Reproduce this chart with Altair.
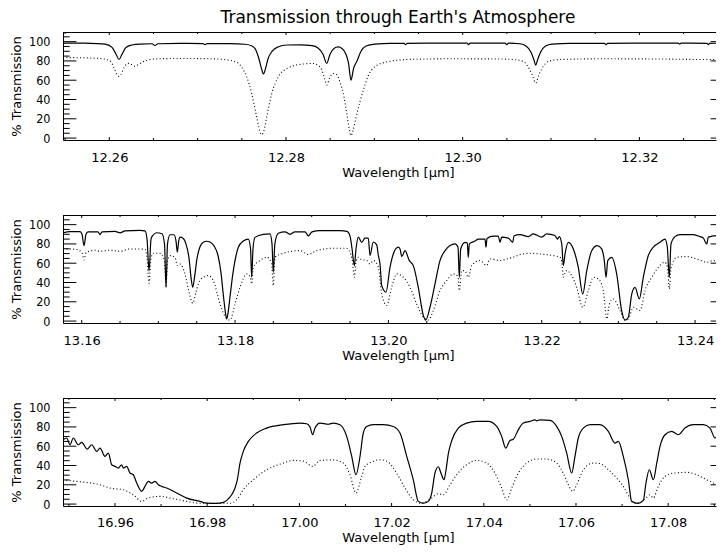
import altair as alt
import pandas as pd

FONT = "DejaVu Sans"
NARROW = "'Liberation Sans Narrow', 'DejaVu Sans Condensed', 'DejaVu Sans', sans-serif"
W, H = 653, 108
Y_DOMAIN = [-2, 110]

# ---------------- data: panel 1 (12.25 - 12.33 um) ----------------
p1_wl_solid = [12.25476, 12.25782, 12.25951, 12.26031, 12.26076, 12.26110, 12.26144, 12.26189, 12.26257, 12.26347,
               12.26483, 12.26517, 12.26551, 12.26800, 12.27061, 12.27083, 12.27106, 12.27366, 12.27536, 12.27615,
               12.27660, 12.27694, 12.27723, 12.27745, 12.27768, 12.27796, 12.27842, 12.27909, 12.28011, 12.28159,
               12.28294, 12.28362, 12.28419, 12.28461, 12.28498, 12.28543, 12.28589, 12.28634, 12.28679, 12.28707,
               12.28736, 12.28764, 12.28804, 12.28849, 12.28906, 12.29007, 12.29177, 12.29336, 12.29353, 12.29370,
               12.29743, 12.30049, 12.30066, 12.30083, 12.30479, 12.30498, 12.30519, 12.30649, 12.30717, 12.30773,
               12.30807, 12.30826, 12.30847, 12.30881, 12.30937, 12.31011, 12.31215, 12.31605, 12.31622, 12.31639,
               12.32120, 12.32440, 12.32455, 12.32472, 12.32573, 12.32765, 12.32780, 12.32794, 12.33060]
p1_tr_solid = [98.5, 98.3, 97.5, 94, 87, 81.5, 87, 94, 96.5, 97.5,
               97.8, 96, 97.8, 98.2, 98, 96.8, 98, 98, 97.3, 95.5,
               91, 82, 72, 66.5, 72, 82, 90, 94.5, 96.5, 96.7,
               95.8, 93.5, 87, 77.5, 87, 93, 94.5, 93, 87, 78,
               60, 72, 80, 90, 95.5, 97.5, 98.3, 98.3, 96.8, 98.3,
               98.5, 98.5, 97, 98.5, 98.5, 97, 98.5, 97.8, 95.5, 89,
               81, 75.5, 81, 89, 95.5, 97.5, 98.3, 98.3, 96.8, 98.3,
               98.5, 98.5, 97.5, 98.5, 98.5, 98.3, 96.8, 98.3, 98.5]
p1_wl_dot = [12.25476, 12.25668, 12.25895, 12.26008, 12.26053, 12.26087, 12.26110, 12.26132, 12.26166, 12.26200,
             12.26229, 12.26257, 12.26291, 12.26325, 12.26404, 12.26540, 12.26800, 12.27174, 12.27332, 12.27445,
             12.27502, 12.27555, 12.27612, 12.27668, 12.27700, 12.27725, 12.27751, 12.27782, 12.27838, 12.27913,
             12.28008, 12.28159, 12.28309, 12.28362, 12.28404, 12.28436, 12.28461, 12.28492, 12.28536, 12.28572,
             12.28611, 12.28649, 12.28691, 12.28719, 12.28736, 12.28759, 12.28792, 12.28838, 12.28883, 12.28928,
             12.29007, 12.29143, 12.29404, 12.29856, 12.30422, 12.30592, 12.30686, 12.30739, 12.30785, 12.30826,
             12.30864, 12.30909, 12.30969, 12.31102, 12.31554, 12.32233, 12.32686, 12.33060]
p1_tr_dot = [83.5, 83.3, 82.5, 80, 73, 66, 64, 66, 73, 77,
             77.5, 76, 74.5, 76, 80, 82.2, 82.5, 82.2, 81, 78.5,
             73, 63.5, 46, 22, 8, 3.5, 8, 22, 46, 63.5,
             72, 76.4, 77.4, 75.5, 71, 62, 55, 62, 67, 66,
             58, 46, 24, 8, 2.5, 8, 21, 38, 52, 64,
             74, 79, 81.6, 82.2, 82, 81.3, 79.5, 74, 66, 57,
             66, 74, 79.5, 81.5, 82.2, 82, 81.5, 81.5]

# ---------------- data: panel 2 (13.16 - 13.24 um) ----------------
p2_wl_solid = [13.15756, 13.15847, 13.15978, 13.16004, 13.16030, 13.16056, 13.16082, 13.16213, 13.16239, 13.16265,
               13.16434, 13.16500, 13.16565, 13.16760, 13.16826, 13.16852, 13.16878, 13.16904, 13.16930, 13.16978,
               13.17047, 13.17080, 13.17100, 13.17119, 13.17152, 13.17204, 13.17230, 13.17247, 13.17265, 13.17282,
               13.17321, 13.17360, 13.17400, 13.17426, 13.17448, 13.17471, 13.17504, 13.17543, 13.17582, 13.17630,
               13.17673, 13.17726, 13.17778, 13.17817, 13.17850, 13.17876, 13.17891, 13.17908, 13.17934, 13.17973,
               13.18013, 13.18043, 13.18108, 13.18173, 13.18202, 13.18217, 13.18234, 13.18260, 13.18369, 13.18456,
               13.18482, 13.18499, 13.18519, 13.18564, 13.18652, 13.18717, 13.18782, 13.18913, 13.18956, 13.19004,
               13.19108, 13.19369, 13.19460, 13.19500, 13.19526, 13.19556, 13.19578, 13.19608, 13.19652, 13.19695,
               13.19738, 13.19760, 13.19803, 13.19848, 13.19869, 13.19891, 13.19913, 13.19969, 13.20021, 13.20064,
               13.20129, 13.20152, 13.20174, 13.20217, 13.20273, 13.20325, 13.20390, 13.20456, 13.20487, 13.20543,
               13.20608, 13.20673, 13.20739, 13.20804, 13.20869, 13.20908, 13.20925, 13.20943, 13.20999, 13.21029,
               13.21042, 13.21056, 13.21130, 13.21173, 13.21260, 13.21273, 13.21286, 13.21369, 13.21434, 13.21456,
               13.21478, 13.21564, 13.21622, 13.21639, 13.21717, 13.21825, 13.21890, 13.22000, 13.22065, 13.22173,
               13.22203, 13.22229, 13.22261, 13.22282, 13.22304, 13.22347, 13.22412, 13.22477, 13.22535, 13.22587,
               13.22652, 13.22725, 13.22782, 13.22816, 13.22839, 13.22861, 13.22913, 13.22978, 13.23043, 13.23086,
               13.23129, 13.23174, 13.23217, 13.23273, 13.23325, 13.23390, 13.23455, 13.23543, 13.23608, 13.23638,
               13.23664, 13.23686, 13.23738, 13.23804, 13.23977, 13.24065, 13.24108, 13.24152, 13.24173, 13.24282,
               13.24316, 13.24348, 13.24391, 13.24495]
p2_tr_solid = [91.5, 92.8, 92.8, 90, 78.3, 90, 92.5, 92.5, 89.5, 92.5,
               93, 91.5, 93.5, 94, 93.5, 85, 52, 85, 89, 91.6,
               90.5, 80, 35, 80, 89.5, 89.5, 83, 71.4, 83, 87,
               86, 80, 65, 45, 35, 45, 65, 77, 81.5, 82.8,
               82, 78, 68, 50, 25, 8, 2.2, 8, 25, 50,
               68, 76.6, 83, 85, 75, 45.4, 75, 86.8, 90, 90.5,
               80, 50.6, 80, 91, 92.5, 90, 92.5, 92.5, 88.3, 92.5,
               93.8, 93.8, 93, 88, 75, 57.5, 75, 87, 81.7, 86,
               86, 68, 82, 79, 68, 59, 36.8, 30, 55.8, 69.6,
               76.6, 74.8, 66.9, 73, 62.7, 57.5, 35, 5.7, 1, 14.4,
               38.5, 62.7, 73, 78.3, 80, 76.6, 45.4, 74.8, 81.7, 81,
               66, 80, 83, 85, 85, 76.6, 85.6, 88, 88, 81.7,
               87, 86, 81.7, 88.5, 89.7, 87.6, 90.4, 87, 90.4, 88.7,
               85, 87.6, 80, 57.5, 69.6, 81.7, 74.8, 55.8, 28, 52,
               73, 78.3, 74.8, 62.7, 45.4, 62.7, 66, 48.7, 10.6, 1,
               4, 28, 35, 23, 45.4, 68, 76.6, 81.7, 85, 76.6,
               45.4, 80, 87.6, 89.7, 89.7, 87.6, 86, 80, 87, 88.7,
               80, 87.6, 88.7, 88.7]
p2_wl_dot = [13.15756, 13.15913, 13.16004, 13.16030, 13.16056, 13.16173, 13.16239, 13.16369, 13.16500, 13.16630,
             13.16826, 13.16852, 13.16878, 13.16904, 13.16934, 13.17021, 13.17080, 13.17100, 13.17119, 13.17152,
             13.17217, 13.17247, 13.17282, 13.17347, 13.17400, 13.17448, 13.17491, 13.17521, 13.17586, 13.17651,
             13.17716, 13.17804, 13.17869, 13.17934, 13.18000, 13.18065, 13.18152, 13.18202, 13.18217, 13.18238,
             13.18326, 13.18413, 13.18476, 13.18499, 13.18521, 13.18630, 13.18847, 13.18956, 13.19065, 13.19282,
             13.19456, 13.19526, 13.19556, 13.19578, 13.19608, 13.19643, 13.19717, 13.19760, 13.19803, 13.19869,
             13.19913, 13.19978, 13.20043, 13.20109, 13.20195, 13.20282, 13.20369, 13.20456, 13.20521, 13.20586,
             13.20673, 13.20761, 13.20847, 13.20908, 13.20925, 13.20956, 13.20999, 13.21042, 13.21087, 13.21195,
             13.21282, 13.21325, 13.21456, 13.21543, 13.21629, 13.21717, 13.21847, 13.21978, 13.22151, 13.22238,
             13.22261, 13.22282, 13.22304, 13.22326, 13.22391, 13.22456, 13.22535, 13.22608, 13.22673, 13.22738,
             13.22803, 13.22848, 13.22882, 13.22934, 13.23021, 13.23086, 13.23129, 13.23195, 13.23282, 13.23347,
             13.23435, 13.23521, 13.23608, 13.23641, 13.23664, 13.23686, 13.23761, 13.23891, 13.24021, 13.24152,
             13.24238, 13.24325, 13.24391, 13.24495]
p2_tr_dot = [74.8, 74.5, 71, 63.4, 71, 73.5, 72.4, 73.5, 72.4, 74.8,
             74.5, 65, 39.2, 65, 70.3, 70.3, 62, 35.1, 62, 67.9,
             66.2, 57.6, 59.2, 48.9, 30, 18.5, 30, 38.5, 45.4, 47.2,
             42, 17.7, 5, 1.1, 17.7, 35.1, 48.9, 45, 38.5, 55.8,
             62.8, 66.2, 60, 36.8, 66.2, 70.3, 73.1, 69, 73.1, 75.5,
             75.5, 65, 45.4, 62, 66.2, 64, 62.8, 59.2, 62.8, 55.8,
             28.1, 16.1, 35.1, 48.9, 45.4, 35.1, 17.7, 3.9, 1.1, 10.9,
             31.6, 42, 48.9, 46, 31.6, 52.4, 52, 45.4, 57.6, 62.8,
             57.6, 64.4, 62.8, 64.4, 66.2, 69, 70.3, 69.6, 67.9, 66.2,
             62, 45.4, 50, 52.4, 47.2, 35.1, 14.3, 31.6, 45.4, 43.7,
             31.6, 2.2, 17.7, 22.9, 10.9, 1.1, 2.2, 14.3, 10.9, 31.6,
             45.4, 55.8, 61, 55, 33.3, 55, 66.2, 66.9, 64.4, 61,
             62.8, 59.2, 61, 60]

# ---------------- data: panel 3 (16.95 - 17.09 um) ----------------
p3_wl_solid = [16.94872, 16.94952, 16.95024, 16.95095, 16.95204, 16.95278, 16.95399, 16.95495, 16.95603, 16.95675,
               16.95783, 16.95855, 16.95928, 16.96000, 16.96072, 16.96145, 16.96180, 16.96254, 16.96325, 16.96397,
               16.96471, 16.96579, 16.96651, 16.96722, 16.96796, 16.96868, 16.96939, 16.97013, 16.97121, 16.97338,
               16.97555, 16.97844, 16.97989, 16.98206, 16.98349, 16.98423, 16.98531, 16.98603, 16.98653, 16.98712,
               16.98783, 16.98892, 16.99074, 16.99291, 16.99651, 17.00013, 17.00158, 17.00230, 17.00289, 17.00338,
               17.00447, 17.00627, 17.00735, 17.00881, 17.01026, 17.01135, 17.01228, 17.01315, 17.01386, 17.01460,
               17.01603, 17.01820, 17.02037, 17.02182, 17.02328, 17.02471, 17.02579, 17.02688, 17.02796, 17.02870,
               17.02941, 17.03013, 17.03072, 17.03137, 17.03180, 17.03230, 17.03304, 17.03447, 17.03629, 17.03846,
               17.04098, 17.04280, 17.04388, 17.04475, 17.04568, 17.04640, 17.04748, 17.04857, 17.05002, 17.05111,
               17.05148, 17.05219, 17.05436, 17.05581, 17.05690, 17.05798, 17.05907, 17.05978, 17.06050, 17.06158,
               17.06304, 17.06521, 17.06701, 17.06846, 17.06918, 17.07026, 17.07135, 17.07208, 17.07351, 17.07460,
               17.07518, 17.07590, 17.07677, 17.07751, 17.07822, 17.07931, 17.08076, 17.08219, 17.08364, 17.08545,
               17.08761, 17.08907, 17.09015, 17.09124, 17.09232, 17.09406]
p3_tr_solid = [66.7, 68.5, 61.5, 68.5, 61.5, 64, 57, 61.5, 54.6, 58.1,
               49.5, 52.9, 40.8, 39.1, 37.3, 40.8, 37.3, 39.1, 32.2, 30.4,
               21.8, 13.2, 18.4, 23.5, 21.8, 23.5, 20, 18.4, 16.6, 11.4,
               6.2, 2.8, 1, 0.8, 1.7, 3.8, 9.6, 16.6, 25.2, 42.5,
               54.6, 65, 73.7, 78.8, 82.3, 84, 83.3, 79.9, 71.9, 78.8,
               84, 82.8, 84, 82.3, 70.2, 49.5, 30.4, 49.5, 73.7, 80.5,
               82.3, 82.3, 80.5, 73.7, 49.5, 25, 2.8, 1, 2.8, 11.4,
               32.2, 38.7, 32, 25.2, 35, 52, 65.7, 78.8, 84, 85.8,
               85.8, 80.6, 70.2, 58.1, 66, 67.3, 77, 84, 85.8, 87.4,
               86.3, 87.4, 86.8, 80.6, 70.2, 52.9, 32.2, 49.5, 68.5, 78.8,
               82.3, 82.3, 75.4, 63.3, 65, 49.4, 25.2, 2.8, 0.8, 3.8,
               21.8, 35.6, 25.2, 42.2, 59.8, 71.9, 75.4, 71.9, 78.8, 82.3,
               82.3, 78.8, 68.5, 75.4, 78.8, 79]
p3_wl_dot = [16.94872, 16.95169, 16.95675, 16.95892, 16.96180, 16.96397, 16.96579, 16.96722, 16.96976, 16.97265,
             16.97555, 16.97844, 16.98495, 16.98640, 16.98783, 16.99000, 16.99291, 16.99651, 16.99868, 17.00085,
             17.00289, 17.00447, 17.00735, 17.00952, 17.01098, 17.01228, 17.01351, 17.01423, 17.01603, 17.01748,
             17.01894, 17.02111, 17.02291, 17.02471, 17.02653, 17.02761, 17.02870, 17.03013, 17.03122, 17.03267,
             17.03412, 17.03629, 17.03846, 17.04063, 17.04243, 17.04388, 17.04497, 17.04605, 17.04748, 17.04931,
             17.05148, 17.05364, 17.05581, 17.05725, 17.05833, 17.05929, 17.06015, 17.06158, 17.06375, 17.06521,
             17.06701, 17.06883, 17.07026, 17.07171, 17.07280, 17.07425, 17.07518, 17.07605, 17.07677, 17.07785,
             17.07931, 17.08111, 17.08401, 17.08618, 17.08835, 17.09052, 17.09232, 17.09406]
p3_tr_dot = [25.2, 23.5, 20, 16.6, 14.8, 9.6, 2.8, 6.3, 8, 5.5,
             2.8, 0.8, 0.8, 4.5, 14.9, 25.2, 35.6, 42.5, 45.3, 44.5,
             39.1, 45.3, 45.8, 42.5, 30.4, 11.4, 28.7, 39, 44.3, 46,
             44.5, 32, 16.6, 4.5, 0.8, 2.8, 6.3, 10.7, 9.6, 20,
             30.4, 40.8, 45.3, 42.5, 32, 16.6, 4.5, 16.6, 32, 42.5,
             46.7, 46.7, 42.5, 32, 20, 13.2, 20, 35.6, 42.5, 42,
             35.6, 27, 18.3, 6.3, 0.8, 2.8, 6.3, 9.6, 6.3, 18.3,
             28.7, 32, 32.9, 30.4, 25.2, 20, 14.9, 13]

# ---------------- axes: ranges and tick values ----------------
p1_xdomain = [12.25476, 12.32867]
p2_xdomain = [13.15756, 13.24273]
p3_xdomain = [16.94872, 17.09037]
p1_xmajor = [12.26, 12.28, 12.30, 12.32]
p1_xminor = [12.255, 12.265, 12.27, 12.275, 12.285, 12.29, 12.295, 12.305, 12.31, 12.315, 12.325]
p2_xmajor = [13.16, 13.18, 13.20, 13.22, 13.24]
p2_xminor = [13.165, 13.17, 13.175, 13.185, 13.19, 13.195, 13.205, 13.21, 13.215, 13.225, 13.23, 13.235]
p3_xmajor = [16.96, 16.98, 17.00, 17.02, 17.04, 17.06, 17.08]
p3_xminor = [16.95, 16.97, 16.99, 17.01, 17.03, 17.05, 17.07, 17.09]
y_major = [0, 20, 40, 60, 80, 100]
y_minor = [5, 10, 15, 25, 30, 35, 45, 50, 55, 65, 70, 75, 85, 90, 95, 105]

TITLE = "Transmission through Earth's Atmosphere"
X_TITLE = "Wavelength [µm]"
Y_TITLE = "% Transmission"


def make_panel(wl_s, tr_s, wl_d, tr_d, xdom, xmaj, xmin, title=None, x_lpad=11, x_ext=24, x_tpad=2):
    xs = alt.Scale(domain=xdom, nice=False, zero=False)
    ys = alt.Scale(domain=Y_DOMAIN, nice=False, zero=False)
    x_axis = alt.Axis(values=xmaj, format=".2f", title=X_TITLE, ticks=False, tickSize=0,
                      labelPadding=x_lpad, domain=True, domainColor="black", domainWidth=1,
                      grid=False, labelFlush=False, labelOverlap=False,
                      minExtent=x_ext, maxExtent=x_ext, titlePadding=x_tpad, titleX=335)
    y_axis = alt.Axis(values=y_major, title=Y_TITLE, ticks=False, tickSize=0,
                      labelPadding=13, labelFont=NARROW, labelFontSize=12.5,
                      domain=True, domainColor="black", domainWidth=1,
                      grid=False, labelFlush=False, labelOverlap=False,
                      minExtent=38, maxExtent=38, titlePadding=2)
    X = lambda f: alt.X(f, scale=xs, axis=x_axis)
    Y = lambda f: alt.Y(f, scale=ys, axis=y_axis)

    solid = alt.Chart(pd.DataFrame({"wl": wl_s, "tr": tr_s})).mark_line(
        color="black", strokeWidth=1.2, interpolate="monotone", clip=True
    ).encode(x=X("wl:Q"), y=Y("tr:Q"))
    dotted = alt.Chart(pd.DataFrame({"wl": wl_d, "tr": tr_d})).mark_line(
        color="black", strokeWidth=1.1, strokeDash=[1, 2.4], interpolate="monotone", clip=True
    ).encode(x=X("wl:Q"), y=Y("tr:Q"))

    xmaj_df = pd.DataFrame({"wl": xmaj})
    xmin_df = pd.DataFrame({"wl": xmin})
    ymaj_df = pd.DataFrame({"tr": y_major})
    ymin_df = pd.DataFrame({"tr": y_minor})
    rule = dict(color="black", strokeWidth=1)

    def xt(d, a, b):
        return alt.Chart(d).mark_rule(**rule).encode(x=X("wl:Q"), y=alt.value(a), y2=alt.value(b))

    def yt(d, a, b):
        return alt.Chart(d).mark_rule(**rule).encode(y=Y("tr:Q"), x=alt.value(a), x2=alt.value(b))

    ticks = [
        xt(xmaj_df, H, H - 3), xt(xmin_df, H, H - 2),
        xt(xmaj_df, 0, 3), xt(xmin_df, 0, 2),
        yt(ymaj_df, 0, 13.4), yt(ymin_df, 0, 6.7),
        yt(ymaj_df, W - 5.4, W),
    ]
    top = alt.Chart(pd.DataFrame({"v": [0]})).mark_rule(**rule).encode(
        x=alt.value(0), x2=alt.value(W), y=alt.value(0.5))
    layer = alt.layer(solid, dotted, *ticks, top).properties(width=W, height=H)
    if title:
        layer = layer.properties(title=alt.TitleParams(
            text=title, fontSize=17, font=FONT, fontWeight="normal", color="black",
            anchor="middle", frame="group", offset=5, dx=8.5))
    return layer


p1 = make_panel(p1_wl_solid, p1_tr_solid, p1_wl_dot, p1_tr_dot, p1_xdomain, p1_xmajor, p1_xminor, TITLE)
p2 = make_panel(p2_wl_solid, p2_tr_solid, p2_wl_dot, p2_tr_dot, p2_xdomain, p2_xmajor, p2_xminor)
p3 = make_panel(p3_wl_solid, p3_tr_solid, p3_wl_dot, p3_tr_dot, p3_xdomain, p3_xmajor, p3_xminor,
                x_lpad=10, x_ext=25, x_tpad=0.5)

chart = alt.vconcat(p1, p2, p3, spacing=75, bounds="flush").properties(
    padding={"left": 2, "top": 0, "right": 0, "bottom": 1}, background="white"
).configure_view(strokeWidth=0).configure_axis(
    labelFont=FONT, titleFont=FONT, labelFontSize=13, titleFontSize=13,
    labelColor="black", titleColor="black", titleFontWeight="normal"
)

chart.save("out.html", embed_options={"renderer": "svg", "actions": False})
